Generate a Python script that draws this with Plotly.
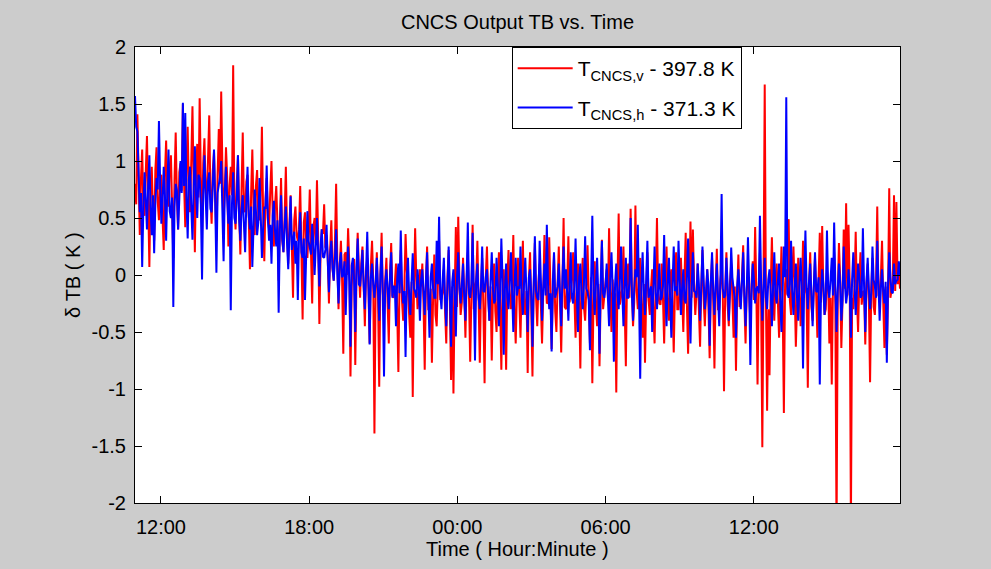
import pandas as pd
import plotly.graph_objects as go

# ---- data ----
t_start = "2013-01-01 10:57"
t_end = "2013-01-02 17:55"

tick_times = ["2013-01-01 12:00", "2013-01-01 18:00", "2013-01-02 00:00",
              "2013-01-02 06:00", "2013-01-02 12:00"]
tick_labels = ["12:00", "18:00", "00:00", "06:00", "12:00"]

y_ticks = [-2, -1.5, -1, -0.5, 0, 0.5, 1, 1.5, 2]
y_tick_labels = ["-2", "-1.5", "-1", "-0.5", "0", "0.5", "1", "1.5", "2"]

# T_CNCS,v deviation (K)
tb_v = [
    0.80, 0.62, 1.41, 0.70, 0.35, 0.85, 1.10, 0.58, 0.52, 0.90, 1.22, 0.66, 0.07, 0.78, 0.95, 0.55, 0.30, 0.92, 1.12, 0.64,
    0.48, 0.81, 0.88, 0.50, 0.22, 0.88, 1.18, 0.72, 0.60, 0.95, 1.05, 0.60, 0.15, 0.83, 1.25, 0.68, 0.40, 0.90, 0.98, 0.74,
    1.50, 0.80, 0.42, 0.95, 1.30, 0.72, 0.55, 1.00, 1.48, 0.78, 0.20, 0.90, 1.15, 0.68, 1.55, 0.85, 0.38, 0.98, 1.20, 0.75,
    0.62, 1.02, 1.40, 0.70, 0.45, 0.92, 1.08, 0.66, 0.30, 0.88, 1.28, 0.80, 1.61, 0.94, 0.50, 0.72, 1.12, 0.86, 0.25, 0.78,
    0.95, 0.70, 1.84, 0.62, 0.40, 0.80, 1.05, 0.55, 0.18, 0.75, 1.25, 0.60, 0.55, 0.82, 0.88, 0.52, 0.05, 0.72, 1.10, 0.58,
    0.35, 0.78, 0.92, 0.50, 0.48, 0.70, 1.30, 0.56, 0.12, 0.66, 0.85, 0.48, 0.40, 0.74, 1.00, 0.54, 0.25, 0.62, 0.78, 0.45,
    -0.05, 0.45, 0.85, 0.30, 0.20, 0.52, 0.95, 0.38, 0.10, 0.44, 0.70, 0.25, -0.20, 0.48, 0.60, 0.35, 0.30, 0.40, 0.78, 0.22,
    -0.39, 0.46, 0.55, 0.30, 0.15, 0.38, 0.75, 0.20, -0.25, 0.42, 0.50, 0.28, 0.83, 0.34, -0.43, 0.18, 0.40, 0.36, 0.62, 0.24,
    0.35, 0.15, -0.25, 0.22, 0.48, 0.05, -0.05, 0.28, 0.80, 0.12, -0.30, 0.08, 0.30, -0.05, -0.69, 0.18, 0.20, 0.00, 0.41, 0.10,
    -0.89, -0.10, 0.10, 0.14, -0.79, -0.02, 0.37, 0.06, -0.20, 0.10, 0.25, -0.08, -0.45, 0.04, 0.15, -0.12, -0.60, 0.08, 0.30, -0.05,
    -1.39, -0.12, 0.20, -0.20, -0.98, 0.00, 0.37, -0.15, -0.35, -0.05, 0.15, -0.25, -0.60, 0.02, 0.28, -0.18, -0.20, -0.08, 0.10, -0.30,
    -0.85, -0.02, 0.22, -0.22, -0.40, -0.10, 0.36, 0.05, -0.15, -0.28, -0.55, -0.06, -1.07, -0.15, 0.41, -0.04, -0.30, -0.20, 0.05, -0.10,
    0.10, -0.25, -0.83, -0.05, 0.25, -0.30, -0.30, -0.12, -0.77, -0.20, 0.18, -0.35, -0.45, -0.08, 0.30, -0.22, -0.20, -0.15, 0.05, -0.32,
    -0.60, -0.02, 0.22, -0.26, -0.92, -0.10, -1.04, -0.18, 0.42, -0.28, 0.51, -0.06, -0.35, -0.24, 0.15, -0.14, -0.55, -0.04, 0.20, -0.20,
    -0.76, -0.18, 0.44, -0.30, -0.10, -0.05, 0.30, -0.22, -0.77, -0.12, 0.15, -0.28, -0.95, -0.02, 0.25, -0.20, -0.40, -0.10, -0.75, -0.15,
    0.10, -0.32, -0.50, -0.08, 0.20, -0.26, -0.83, -0.14, 0.05, -0.24, -0.83, -0.06, 0.22, -0.20, -0.30, -0.10, 0.35, -0.30, -0.60, -0.16,
    0.15, -0.22, -0.55, -0.08, 0.30, -0.28, -0.35, -0.14, -0.86, -0.04, 0.20, -0.30, -0.89, -0.12, 0.28, -0.20, -0.45, -0.06, 0.10, -0.26,
    -0.60, -0.16, 0.35, -0.02, -0.25, -0.24, 0.33, -0.10, -0.65, -0.18, 0.18, -0.32, -0.50, -0.08, 0.25, -0.22, -0.68, -0.12, 0.50, -0.28,
    -0.30, -0.10, 0.34, -0.24, -0.15, -0.04, 0.20, -0.30, -0.55, -0.14, 0.10, -0.20, -0.82, -0.06, 0.15, -0.28, -0.40, -0.12, 0.26, -0.18,
    -0.60, -0.02, -0.95, -0.22, 0.12, -0.26, -0.45, -0.08, -0.80, -0.16, 0.31, -0.30, -0.20, -0.10, 0.05, -0.20, 0.41, -0.14, -0.50, -0.04,
    -0.40, -0.16, -1.03, -0.06, 0.54, -0.26, -0.20, -0.12, 0.25, -0.30, -0.80, -0.02, 0.10, -0.20, 0.58, -0.10, -0.45, -0.24, 0.61, -0.14,
    -0.30, -0.04, 0.15, -0.28, -0.55, -0.08, -0.77, -0.18, 0.20, -0.22, -0.35, -0.12, 0.05, -0.32, -0.60, -0.06, 0.50, -0.16, -0.25, -0.26,
    0.10, -0.20, -0.60, -0.10, 0.25, -0.28, -0.40, -0.04, 0.05, -0.24, -0.68, -0.14, 0.20, -0.30, -0.30, -0.08, 0.15, -0.18, -0.50, -0.02,
    0.37, -0.26, -0.69, -0.12, 0.47, -0.20, 0.40, -0.06, -0.35, -0.16, 0.10, -0.30, -0.63, -0.10, 0.22, -0.22, -0.45, -0.14, 0.05, -0.28,
    -0.73, -0.08, 0.15, -0.22, -0.82, -0.12, 0.23, -0.30, -0.30, -0.04, 0.05, -0.18, -1.02, -0.14, 0.20, -0.26, -0.45, -0.06, 0.10, -0.20,
    -0.55, -0.10, -0.84, -0.16, 0.18, -0.28, -0.25, -0.02, 0.26, -0.24, -0.60, -0.12, 0.05, -0.18, -0.40, -0.08, 0.12, -0.22, 0.42, -0.14,
    -0.96, -0.12, 0.20, -0.26, -1.51, -0.06, 1.67, -0.20, -1.19, -0.30, -0.88, -0.10, 0.33, -0.16, -0.40, -0.04, 0.10, -0.24, -0.55, -0.14,
    0.25, -0.28, -1.21, -0.08, 0.05, -0.18, 0.49, -0.22, -0.35, -0.02, 0.25, -0.12, -0.63, -0.26, 0.15, -0.10, -0.45, -0.20, 0.30, -0.16,
    0.10, -0.22, -0.99, -0.08, 0.20, -0.28, -0.40, -0.12, 0.15, -0.18, -0.55, -0.04, 0.37, -0.24, 0.43, -0.14, -0.35, -0.30, 0.05, -0.06,
    -0.60, -0.20, -0.96, -0.10, 0.20, -0.26, -2.30, -0.16, 0.28, -0.02, -0.64, -0.22, 0.40, -0.12, 0.63, -0.18, 0.44, -0.08, -2.20, -0.20,
    -0.30, -0.10, 0.38, -0.20, -0.50, -0.04, 0.20, -0.26, -0.15, -0.14, -0.61, -0.08, 0.10, -0.22, -0.94, -0.12, 0.15, -0.28, -0.35, -0.06,
    0.60, -0.18, -0.20, -0.02, 0.30, -0.24, -0.64, -0.10, -0.70, -0.16, 0.76, -0.20, -0.10, -0.06, 0.70, -0.14, 0.64, -0.08, 0.05, -0.12,
]

# T_CNCS,h deviation (K)
tb_h = [
    1.57, 1.30, 1.26, 0.80, 0.55, 0.72, 0.07, 0.60, 0.90, 0.66, 0.40, 0.78, 1.05, 0.58, 0.35, 0.70, 0.19, 0.62, 0.85, 0.75,
    1.35, 0.82, 0.45, 0.64, 0.95, 0.70, 0.30, 0.76, 1.10, 0.56, 0.50, 0.68, -0.28, 0.60, 0.80, 0.74, 0.40, 0.66, 1.00, 0.72,
    1.51, 0.78, 1.42, 0.66, 0.32, 0.84, 0.95, 0.60, 0.31, 0.76, 1.13, 0.70, 0.50, 0.88, 0.85, 0.62, -0.04, 0.74, 1.05, 0.68,
    0.40, 0.82, 0.90, 0.58, 0.55, 0.80, 1.10, 0.64, 0.02, 0.72, 0.80, 0.86, 1.00, 0.60, 0.12, 0.74, 0.95, 0.66, 0.45, 0.70,
    -0.31, 0.62, 0.90, 0.50, 0.45, 0.66, 1.05, 0.48, 0.30, 0.58, 0.70, 0.44, 0.20, 0.64, 0.95, 0.52, 0.40, 0.60, 0.07, 0.42,
    0.75, 0.56, 0.35, 0.46, 0.85, 0.54, 0.15, 0.40, 0.60, 0.58, 0.96, 0.50, 0.30, 0.44, 0.10, 0.52, 0.65, 0.38, 0.25, 0.48,
    -0.33, 0.40, 0.70, 0.32, 0.20, 0.44, 0.60, 0.28, 0.05, 0.36, 0.69, 0.22, 0.30, 0.38, 0.10, 0.30, -0.22, 0.34, 0.55, 0.20,
    0.15, 0.32, -0.22, 0.26, 0.56, 0.30, 0.25, 0.18, 0.45, 0.28, 0.00, 0.24, 0.50, 0.20, -0.10, 0.26, 0.40, 0.16, 0.15, 0.22,
    0.44, 0.12, -0.15, 0.18, 0.30, 0.06, -0.05, 0.14, 0.40, 0.02, -0.25, 0.10, 0.20, -0.02, 0.00, 0.12, -0.35, 0.04, 0.25, -0.06,
    -0.63, 0.08, 0.15, -0.04, -0.50, 0.06, 0.32, -0.08, -0.10, 0.04, 0.22, -0.10, -0.30, 0.02, 0.38, -0.06, -0.61, -0.02, 0.10, -0.08,
    -0.20, -0.06, 0.15, -0.14, -0.40, 0.00, 0.25, -0.18, -0.89, -0.08, 0.05, -0.12, -0.30, -0.02, 0.20, -0.20, -0.10, -0.10, -0.45, -0.04,
    0.10, -0.16, 0.39, -0.08, -0.25, -0.14, -0.72, -0.02, 0.15, -0.18, -0.35, -0.06, 0.19, -0.12, -0.15, -0.20, 0.05, -0.10, -0.40, -0.04,
    0.05, -0.14, -0.35, -0.06, 0.20, -0.18, -0.55, -0.02, 0.10, -0.12, -0.20, -0.20, 0.30, -0.08, 0.51, -0.16, -0.30, -0.04, 0.15, -0.22,
    -0.45, -0.10, 0.25, -0.14, -0.63, -0.06, 0.05, -0.18, -0.54, -0.02, 0.20, -0.12, -0.25, -0.08, 0.10, -0.20, -0.40, -0.04, 0.46, -0.16,
    -0.20, -0.08, 0.37, -0.16, -0.75, -0.04, 0.10, -0.20, -0.30, -0.10, 0.25, -0.14, -0.15, -0.02, 0.05, -0.18, -0.40, -0.06, 0.20, -0.12,
    -0.25, -0.22, 0.15, -0.08, -0.45, -0.16, 0.32, -0.04, -0.70, -0.12, 0.10, -0.20, -0.30, -0.06, 0.20, -0.14, -0.50, -0.10, 0.15, -0.18,
    -0.10, -0.12, 0.25, -0.20, -0.35, -0.06, 0.15, -0.16, -0.50, -0.02, 0.05, -0.18, -0.63, -0.10, 0.34, -0.14, -0.20, -0.22, 0.30, -0.04,
    -0.40, -0.12, 0.10, -0.18, 0.44, -0.08, -0.30, -0.16, -0.67, -0.06, 0.20, -0.20, -0.15, -0.10, 0.10, -0.14, -0.45, -0.04, 0.25, -0.12,
    0.05, -0.16, -0.40, -0.06, 0.20, -0.20, -0.25, -0.10, 0.32, -0.14, -0.50, -0.02, 0.10, -0.18, -0.30, -0.08, 0.34, -0.12, -0.15, -0.22,
    -0.66, -0.04, 0.52, -0.14, -0.35, -0.08, 0.15, -0.18, -0.69, -0.06, 0.30, -0.16, -0.20, -0.10, 0.10, -0.20, -0.45, -0.02, 0.20, -0.12,
    -0.76, -0.08, 0.10, -0.18, -0.30, -0.04, 0.25, -0.14, -0.45, -0.10, 0.15, -0.20, -0.20, -0.06, 0.50, -0.16, -0.40, -0.12, 0.05, -0.02,
    0.44, -0.18, -0.91, -0.08, 0.20, -0.14, -0.35, -0.04, 0.30, -0.20, -0.15, -0.10, -0.50, -0.06, 0.25, -0.16, -0.30, -0.12, 0.10, -0.22,
    -0.20, -0.10, 0.35, -0.16, -0.45, -0.04, 0.15, -0.20, -0.55, -0.08, 0.25, -0.14, -0.10, -0.18, 0.30, -0.06, -0.35, -0.12, 0.05, -0.22,
    -0.25, -0.02, 0.32, -0.16, -0.60, -0.10, 0.20, -0.14, -0.15, -0.20, 0.10, -0.08, -0.40, -0.12, 0.25, -0.04, -0.30, -0.18, 0.05, -0.10,
    -0.62, -0.06, 0.20, -0.14, -0.35, -0.10, 0.10, -0.20, -0.45, -0.04, 0.71, -0.12, -0.20, -0.18, 0.15, -0.08, -0.40, -0.16, 0.24, -0.02,
    -0.15, -0.22, -0.55, -0.10, 0.05, -0.14, -0.30, -0.06, 0.20, -0.18, -0.45, -0.12, 0.33, -0.08, -0.79, -0.16, 0.10, -0.04, -0.25, -0.12,
    -0.10, -0.16, 0.52, -0.08, -0.40, -0.12, 0.15, -0.20, -0.30, -0.04, 0.05, -0.14, -0.45, -0.10, 0.20, -0.18, -0.25, -0.06, 0.10, -0.22,
    -0.50, -0.12, 0.25, -0.02, 1.56, -0.16, -0.20, -0.08, 0.30, -0.14, -0.35, -0.10, 0.10, -0.20, -0.40, -0.06, 0.15, -0.12, -0.82, -0.04,
    0.39, -0.12, -0.30, -0.06, 0.10, -0.18, -0.45, -0.10, 0.20, -0.14, -0.15, -0.02, -0.96, -0.16, 0.05, -0.08, -0.35, -0.20, 0.39, -0.12,
    -0.20, -0.04, 0.15, -0.18, 0.46, -0.10, -0.50, -0.14, 0.10, -0.06, -0.40, -0.22, 0.25, -0.08, -0.25, -0.16, 0.05, -0.12, -0.55, -0.04,
    0.20, -0.08, -0.35, -0.14, 0.10, -0.02, -0.20, -0.18, 0.41, -0.10, -0.50, -0.06, 0.15, -0.12, -0.30, -0.16, 0.25, -0.04, -0.10, -0.20,
    0.30, -0.08, -0.40, -0.12, 0.05, -0.14, -0.25, -0.06, -0.77, -0.10, 0.20, -0.02, -0.15, -0.16, 0.10, -0.08, -0.05, -0.04, 0.12, 0.00,
]

assert len(tb_v) == len(tb_h)
times = pd.date_range(t_start, t_end, periods=len(tb_v))

FONT = "Liberation Sans, Arial, Helvetica, sans-serif"

fig = go.Figure()
fig.add_trace(go.Scatter(x=times, y=tb_v, mode="lines", legendgroup="v",
                         line=dict(color="#ff0000", width=2),
                         name="T<sub>CNCS,v</sub> - 397.8 K"))
fig.add_trace(go.Scatter(x=times, y=tb_h, mode="lines", legendgroup="h",
                         line=dict(color="#0000ff", width=2),
                         name="T<sub>CNCS,h</sub> - 371.3 K"))

axis_common = dict(showgrid=False, zeroline=False, showline=True,
                   linecolor="black", linewidth=1, mirror="ticks",
                   ticks="inside", ticklen=7, tickcolor="black",
                   tickfont=dict(family=FONT, size=20, color="black"))

fig.update_xaxes(type="date", range=[t_start, t_end],
                 tickvals=tick_times, ticktext=tick_labels,
                 ticklabelstandoff=6, **axis_common)
fig.update_yaxes(range=[-2, 2], tickvals=y_ticks, ticktext=y_tick_labels,
                 ticklabelstandoff=4, **axis_common)

fig.update_layout(
    width=991, height=569,
    margin=dict(l=135, r=91, t=47, b=66, pad=0),
    paper_bgcolor="#cccccc", plot_bgcolor="white",
    font=dict(family=FONT, size=20, color="black"),
    title=dict(text="CNCS Output TB vs. Time", x=0.5, xref="paper",
               y=1 - 22 / 569, yref="container", yanchor="middle",
               xanchor="center", font=dict(family=FONT, size=20, color="black")),
    showlegend=True,
    legend=dict(x=0.4924, y=1, xanchor="left", yanchor="top",
                bgcolor="white", bordercolor="black", borderwidth=1,
                itemwidth=55, tracegroupgap=9,
                font=dict(family=FONT, size=21, color="black")),
    annotations=[
        dict(text="δ TB ( K )", textangle=-90, xref="paper", yref="paper",
             x=-0.081, y=0.5, xanchor="center", yanchor="middle",
             showarrow=False, font=dict(family=FONT, size=20, color="black")),
        dict(text="Time ( Hour:Minute )", xref="paper", yref="paper",
             x=0.5, y=-0.1, xanchor="center", yanchor="middle",
             showarrow=False, font=dict(family=FONT, size=20, color="black")),
    ],
)

fig.write_html("out.html")
